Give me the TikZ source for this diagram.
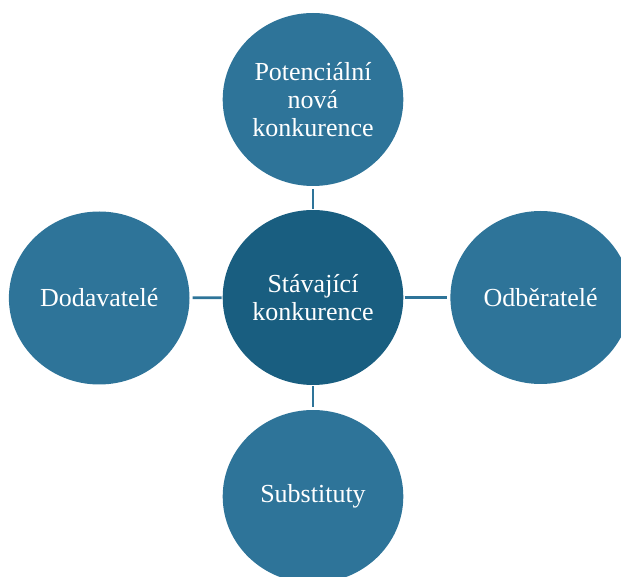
\documentclass[tikz,border=0pt]{standalone}
\usepackage{fontspec}
\setmainfont{Liberation Serif}
\usetikzlibrary{shapes.geometric}
\definecolor{outerblue}{RGB}{46,116,153}
\definecolor{coreblue}{RGB}{25,94,128}
\tikzset{
  force/.style={ellipse, fill=outerblue, draw=none, inner sep=0pt,
    minimum width=180.6pt, minimum height=173pt, text=white, align=center,
    font=\fontsize{26}{28}\selectfont},
  core/.style={force, fill=coreblue, minimum height=175pt},
  link/.style={draw=outerblue, line width=2.6pt, shorten <=1pt, shorten >=3pt}
}
\begin{document}
\begin{tikzpicture}[x=1pt, y=1pt]
  \useasboundingbox (0,0) rectangle (621,576);
  \node[core]  (c) at (313,278.5) {Stávající\\konkurence};
  \node[force] (t) at (313,476.5) {Potenciální\\nová\\konkurence};
  \node[force] (l) at (99.2,278) {Dodavatelé};
  \node[force] (r) at (540.7,278.5) {Odběratelé};
  \node[force] (b) at (313,79.5) {Substituty};
  \draw[link] (c) -- (t);
  \draw[link] (c) -- (l);
  \draw[link] (c) -- (r);
  \draw[link] (c) -- (b);
\end{tikzpicture}
\end{document}
